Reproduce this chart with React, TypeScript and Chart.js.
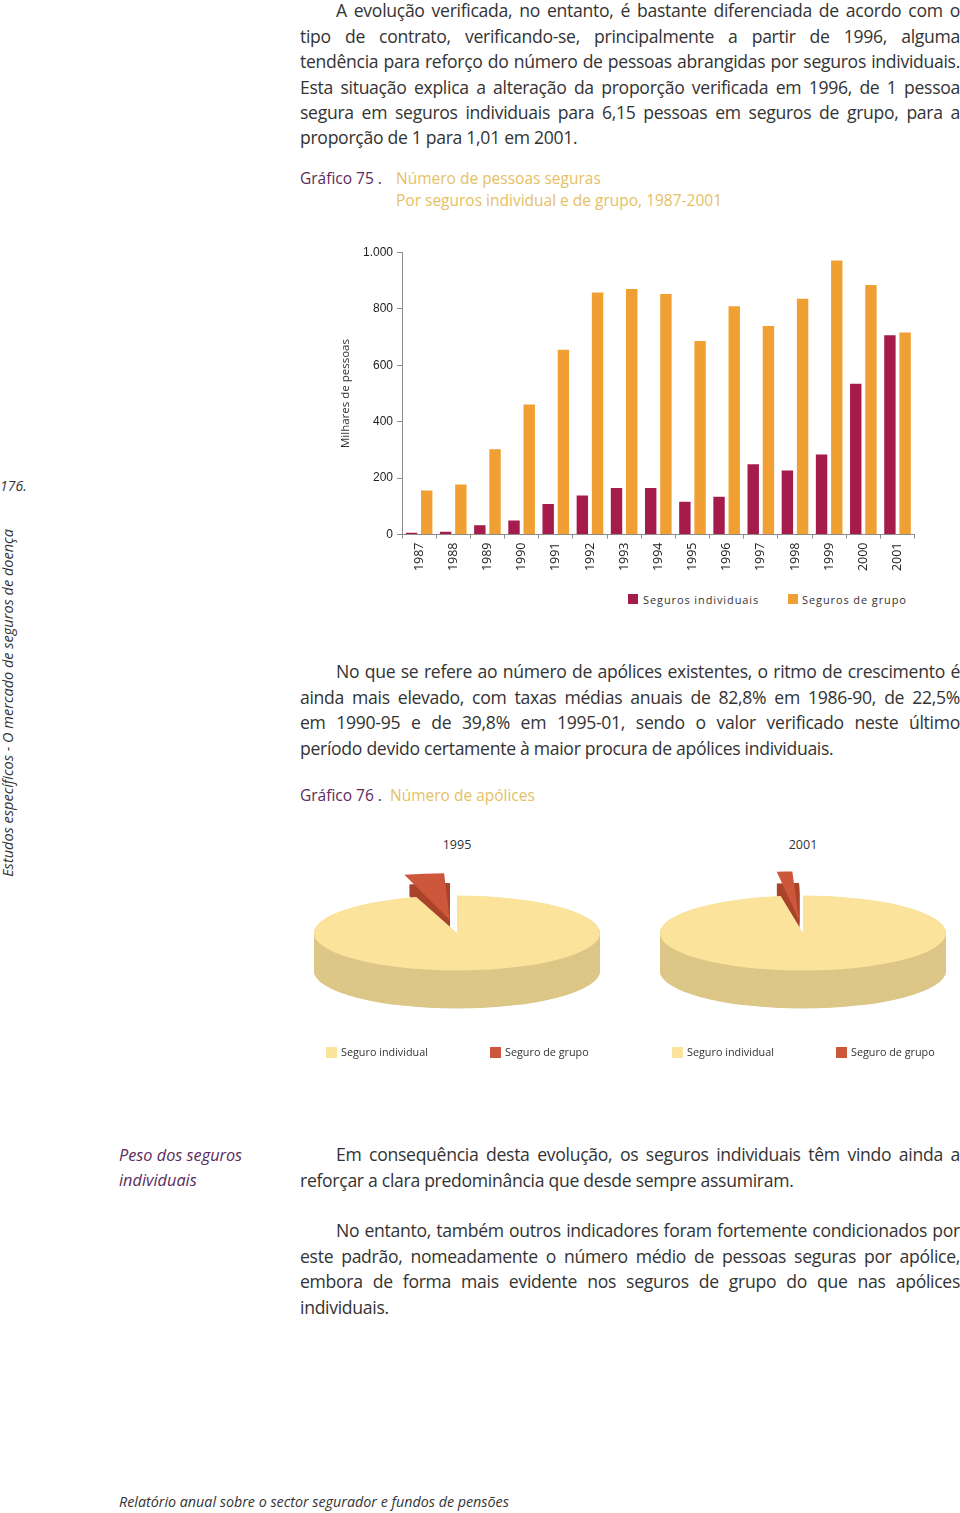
import React, { useEffect, useRef } from "react";
import { Chart, registerables } from "chart.js";

Chart.register(...registerables);

const years = ["1987","1988","1989","1990","1991","1992","1993","1994","1995","1996","1997","1998","1999","2000","2001"];
const individualValues = [6, 10, 33, 50, 108, 138, 165, 165, 116, 134, 249, 227, 284, 535, 707];
const groupValues = [156, 177, 302, 461, 655, 858, 871, 853, 686, 809, 739, 836, 972, 885, 716];
const yTickLabels = ["0", "200", "400", "600", "800", "1.000"];
const barSeriesLabels = ["Seguros individuais", "Seguros de grupo"];

const pieYears = ["1995", "2001"];
const pieLabels = ["Seguro individual", "Seguro de grupo"];
const pie1995 = [95.4, 4.6];
const pie2001 = [97.5, 2.5];

const C_IND = "#a51b4c";
const C_GRP = "#f0a032";
const PIE_TOP = ["#fbe39c", "#cd573a"];
const PIE_SIDE = ["#dcc788", "#a9442b"];
const TEXT = "#333333";
const PURPLE = "#5a2a5c";
const GOLD = "#e6c064";
const BODY_FONT = "'Open Sans', 'Noto Sans', sans-serif";

const para1 = [
  "A evolução verificada, no entanto, é bastante diferenciada de acordo com o",
  "tipo de contrato, verificando-se, principalmente a partir de 1996, alguma",
  "tendência para reforço do número de pessoas abrangidas por seguros individuais.",
  "Esta situação explica a alteração da proporção verificada em 1996, de 1 pessoa",
  "segura em seguros individuais para 6,15 pessoas em seguros de grupo, para a",
  "proporção de 1 para 1,01 em 2001.",
];
const para2 = [
  "No que se refere ao número de apólices existentes, o ritmo de crescimento é",
  "ainda mais elevado, com taxas médias anuais de 82,8% em 1986-90, de 22,5%",
  "em 1990-95 e de 39,8% em 1995-01, sendo o valor verificado neste último",
  "período devido certamente à maior procura de apólices individuais.",
];
const para3 = [
  "Em consequência desta evolução, os seguros individuais têm vindo ainda a",
  "reforçar a clara predominância que desde sempre assumiram.",
];
const para4 = [
  "No entanto, também outros indicadores foram fortemente condicionados por",
  "este padrão, nomeadamente o número médio de pessoas seguras por apólice,",
  "embora de forma mais evidente nos seguros de grupo do que nas apólices",
  "individuais.",
];

const LH = 25.4;

function Para({ lines, firstCenter }: { lines: string[]; firstCenter: number }) {
  return (
    <>
      {lines.map((t, i) => {
        const last = i === lines.length - 1;
        const indent = i === 0 ? 36 : 0;
        return (
          <div
            key={i}
            style={{
              position: "absolute",
              left: 300 + indent,
              top: firstCenter + i * LH - LH / 2,
              width: 660 - indent,
              height: LH,
              lineHeight: LH + "px",
              fontSize: 17.6,
              letterSpacing: "-0.3px",
              fontFamily: BODY_FONT,
              fontWeight: 400,
              color: TEXT,
              textAlign: last ? "left" : "justify",
              textAlignLast: last ? "left" : "justify",
              whiteSpace: "nowrap",
            } as React.CSSProperties}
          >
            {t}
          </div>
        );
      })}
    </>
  );
}

function BarChart() {
  const ref = useRef<HTMLCanvasElement>(null);
  useEffect(() => {
    const chart = new Chart(ref.current!, {
      type: "bar",
      data: {
        labels: years,
        datasets: [
          { label: barSeriesLabels[0], data: individualValues, backgroundColor: C_IND, categoryPercentage: 0.89, barPercentage: 0.75 },
          { label: barSeriesLabels[1], data: groupValues, backgroundColor: C_GRP, categoryPercentage: 0.89, barPercentage: 0.75 },
        ],
      },
      options: {
        animation: false,
        responsive: false,
        maintainAspectRatio: false,
        layout: { padding: { top: 22.5, right: 15.4, bottom: 0, left: 0 } },
        plugins: { legend: { display: false }, tooltip: { enabled: false } },
        scales: {
          x: {
            grid: { display: true, drawOnChartArea: false, offset: true, tickLength: 4, color: "#8c8c8c" },
            border: { color: "#8c8c8c" },
            ticks: {
              minRotation: 90, maxRotation: 90, padding: 4,
              color: "#222",
              font: { family: BODY_FONT, size: 12.5 },
            },
            afterFit: (s: any) => { s.height = 45.5; },
          },
          y: {
            min: 0, max: 1000,
            grid: { display: true, drawOnChartArea: false, tickLength: 5, color: "#8c8c8c" },
            border: { color: "#8c8c8c" },
            ticks: {
              stepSize: 200, padding: 4, color: "#222",
              font: { family: "'Liberation Sans', Arial, sans-serif", size: 12 },
              callback: (v: any) => yTickLabels[Math.round(Number(v) / 200)],
            },
            title: {
              display: true, text: "Milhares de pessoas", color: "#333",
              font: { family: BODY_FONT, size: 11.5 },
              padding: { top: 9, bottom: 0 },
            },
            afterFit: (s: any) => { s.width = 72; },
          },
        },
      },
    });
    return () => chart.destroy();
  }, []);
  return <canvas ref={ref} width={600} height={350} style={{ position: "absolute", left: 330, top: 230, width: 600, height: 350 }} />;
}

const TILT = 0.262;
const DEPTH = [38, 12];
const EXPLODE = 200;

const pie3d = {
  id: "pie3d",
  beforeDatasetsDraw(chart: any) {
    const ctx = chart.ctx;
    const meta = chart.getDatasetMeta(0);
    const a0 = meta.data[0];
    const cx = a0.x, cy = a0.y;
    ctx.save();
    ctx.translate(cx, cy);
    ctx.scale(1, TILT);
    ctx.translate(-cx, -cy);
    const order = [1, 0];
    order.forEach((idx) => {
      const arc = meta.data[idx];
      if (!arc) return;
      const { startAngle, endAngle, outerRadius } = arc.getProps(["startAngle", "endAngle", "outerRadius"], true);
      const off = (arc.options.offset || 0) / 4;
      const mid = (startAngle + endAngle) / 2;
      const ox = Math.cos(mid) * off, oy = Math.sin(mid) * off;
      ctx.fillStyle = PIE_SIDE[idx];
      for (let d = DEPTH[idx]; d > 0; d -= 0.5) {
        const y = cy + oy + d / TILT;
        ctx.beginPath();
        ctx.moveTo(cx + ox, y);
        ctx.arc(cx + ox, y, outerRadius, startAngle, endAngle);
        ctx.closePath();
        ctx.fill();
      }
    });
  },
  afterDatasetsDraw(chart: any) {
    chart.ctx.restore();
  },
};

function Pie3D({ values, left, top }: { values: number[]; left: number; top: number }) {
  const ref = useRef<HTMLCanvasElement>(null);
  useEffect(() => {
    const chart = new Chart(ref.current!, {
      type: "pie",
      data: {
        labels: pieLabels,
        datasets: [
          {
            data: values,
            backgroundColor: PIE_TOP,
            borderWidth: 0,
            offset: [0, EXPLODE],
            clip: false,
          } as any,
        ],
      },
      options: {
        animation: false,
        responsive: false,
        maintainAspectRatio: false,
        radius: 143,
        plugins: { legend: { display: false }, tooltip: { enabled: false } },
      } as any,
      plugins: [pie3d],
    });
    return () => chart.destroy();
  }, []);
  return <canvas ref={ref} width={300} height={300} style={{ position: "absolute", left, top, width: 300, height: 300 }} />;
}

function PieLegend({ left }: { left: number }) {
  const items = [
    { x: 0, c: PIE_TOP[0], t: pieLabels[0] },
    { x: 164, c: PIE_TOP[1], t: pieLabels[1] },
  ];
  return (
    <>
      {items.map((it, i) => (
        <div key={i} style={{ position: "absolute", left: left + it.x, top: 1045, height: 14, display: "flex", alignItems: "center" }}>
          <div style={{ width: 11, height: 11, background: it.c, marginRight: 4 }} />
          <span style={{ fontFamily: BODY_FONT, fontSize: 10.8, color: TEXT, lineHeight: "14px" }}>{it.t}</span>
        </div>
      ))}
    </>
  );
}

export default function App() {
  const abs = (l: number, t: number, extra: React.CSSProperties = {}): React.CSSProperties => ({ position: "absolute", left: l, top: t, whiteSpace: "nowrap", ...extra });
  return (
    <div style={{ position: "absolute", left: 0, top: 0, width: 960, height: 1513, overflow: "hidden", background: "#fff", fontFamily: BODY_FONT }}>
      <Para lines={para1} firstCenter={11} />

      <div style={abs(300, 167, { fontSize: 15.5, lineHeight: "22px", color: PURPLE })}>Gráfico 75 .</div>
      <div style={abs(396, 167, { fontSize: 15.5, lineHeight: "22px", color: GOLD })}>
        Número de pessoas seguras<br />Por seguros individual e de grupo, 1987-2001
      </div>

      <BarChart />

      <div style={abs(628, 593, { display: "flex", alignItems: "center", height: 12 })}>
        <div style={{ width: 10, height: 10, background: C_IND, marginRight: 5 }} />
        <span style={{ fontSize: 11, letterSpacing: "0.9px", color: TEXT }}>{barSeriesLabels[0]}</span>
      </div>
      <div style={abs(788, 593, { display: "flex", alignItems: "center", height: 12 })}>
        <div style={{ width: 10, height: 10, background: C_GRP, marginRight: 4 }} />
        <span style={{ fontSize: 11, letterSpacing: "0.9px", color: TEXT }}>{barSeriesLabels[1]}</span>
      </div>

      <Para lines={para2} firstCenter={672} />

      <div style={abs(300, 784, { fontSize: 15.5, lineHeight: "22px", color: PURPLE })}>Gráfico 76 .</div>
      <div style={abs(390, 784, { fontSize: 15.5, lineHeight: "22px", color: GOLD })}>Número de apólices</div>

      <div style={abs(437, 836, { width: 40, textAlign: "center", fontSize: 12.5, color: TEXT })}>{pieYears[0]}</div>
      <div style={abs(783, 836, { width: 40, textAlign: "center", fontSize: 12.5, color: TEXT })}>{pieYears[1]}</div>

      <Pie3D values={pie1995} left={307} top={782.5} />
      <Pie3D values={pie2001} left={652.5} top={782.5} />

      <PieLegend left={326} />
      <PieLegend left={672} />

      <div style={abs(119, 1143, { fontSize: 16.3, lineHeight: "25.4px", color: PURPLE, fontStyle: "italic" })}>
        Peso dos seguros<br />individuais
      </div>

      <Para lines={para3} firstCenter={1155} />
      <Para lines={para4} firstCenter={1231} />

      <div style={abs(0, 477, { fontSize: 14, fontStyle: "italic", color: TEXT, lineHeight: "18px" })}>176.</div>
      <div
        style={{
          position: "absolute", left: 8, top: 703, whiteSpace: "nowrap",
          transform: "translate(-50%, -50%) rotate(-90deg)",
          fontSize: 14.5, fontStyle: "italic", color: TEXT, lineHeight: "18px",
        }}
      >
        Estudos específicos - O mercado de seguros de doença
      </div>

      <div style={abs(119, 1493, { fontSize: 14.3, fontStyle: "italic", color: TEXT, lineHeight: "18px" })}>
        Relatório anual sobre o sector segurador e fundos de pensões
      </div>
    </div>
  );
}
